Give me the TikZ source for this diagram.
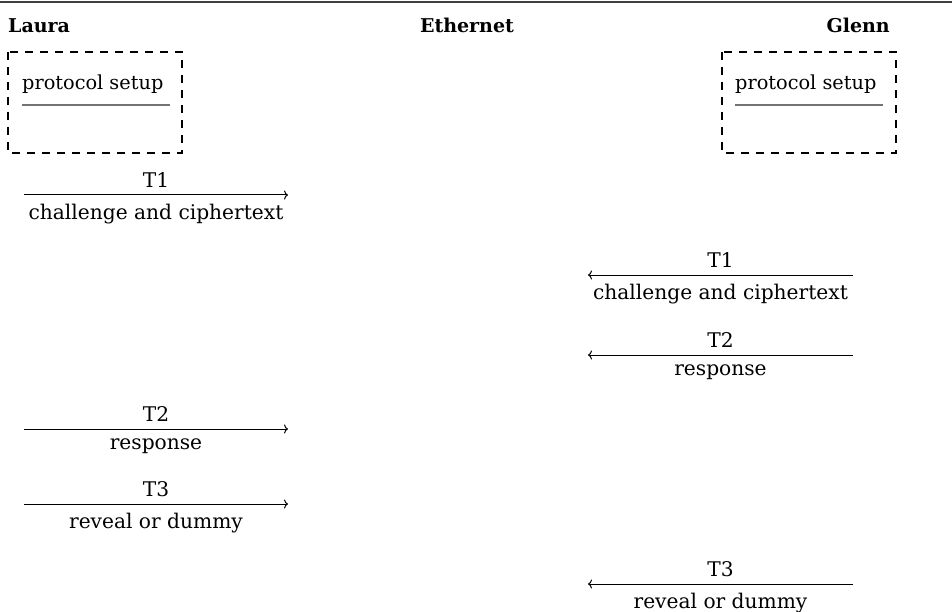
\documentclass[tikz,border=0pt]{standalone}
\usepackage{fontspec}
\setmainfont{DejaVu Serif}
\usetikzlibrary{arrows.meta}
\begin{document}
\begin{tikzpicture}[x=1pt,y=-1pt,
  lbl/.style={font=\fontsize{20.2}{23}\selectfont},
  setuplbl/.style={font=\fontsize{19.3}{22}\selectfont},
  head/.style={font=\fontsize{19}{22}\selectfont\bfseries},
  msg/.style={-{To[length=4pt,width=9pt]},line width=1},
  setupbox/.style={draw,dashed,dash pattern=on 8 off 7,line width=1.3},
  underl/.style={draw=black!55,line width=1.4}]
\useasboundingbox (0,0) rectangle (952,612);
\coordinate (tl) at (0,2);
\coordinate (tr) at (952,2);
\draw[line width=1.3,black!75] (tl) -- (tr);
\node[head,anchor=base west,inner sep=0] (laura) at (8,33) {Laura};
\node[head,anchor=base,inner sep=0] (eth) at (467,33) {Ethernet};
\node[head,anchor=base east,inner sep=0] (glenn) at (890,33) {Glenn};
% setup boxes
\draw[setupbox] (8,52) rectangle (182,153);
\node[setuplbl,anchor=base west,inner sep=0] (psl) at (22,90) {protocol setup};
\coordinate (ul1) at (22,105); \coordinate (ul2) at (170,105);
\draw[underl] (ul1) -- (ul2);
\draw[setupbox] (722,52) rectangle (896,153);
\node[setuplbl,anchor=base west,inner sep=0] (psr) at (735,90) {protocol setup};
\coordinate (ur1) at (735,105); \coordinate (ur2) at (883,105);
\draw[underl] (ur1) -- (ur2);
% left arrows
\coordinate (a1s) at (24,195); \coordinate (a1e) at (288,195);
\draw[msg] (a1s) -- node[lbl,above,inner sep=7] {T1} node[lbl,below,inner sep=9] {challenge and ciphertext} (a1e);
\coordinate (a2s) at (24,429); \coordinate (a2e) at (288,429);
\draw[msg] (a2s) -- node[lbl,above,inner sep=7] {T2} node[lbl,below,inner sep=9] {response} (a2e);
\coordinate (a3s) at (24,504); \coordinate (a3e) at (288,504);
\draw[msg] (a3s) -- node[lbl,above,inner sep=7] {T3} node[lbl,below,inner sep=9] {reveal or dummy} (a3e);
% right arrows
\coordinate (b1s) at (853,275); \coordinate (b1e) at (588,275);
\draw[msg] (b1s) -- node[lbl,above,inner sep=7] {T1} node[lbl,below,inner sep=9] {challenge and ciphertext} (b1e);
\coordinate (b2s) at (853,355); \coordinate (b2e) at (588,355);
\draw[msg] (b2s) -- node[lbl,above,inner sep=7] {T2} node[lbl,below,inner sep=9] {response} (b2e);
\coordinate (b3s) at (853,584); \coordinate (b3e) at (588,584);
\draw[msg] (b3s) -- node[lbl,above,inner sep=7] {T3} node[lbl,below,inner sep=9] {reveal or dummy} (b3e);
\end{tikzpicture}
\end{document}
